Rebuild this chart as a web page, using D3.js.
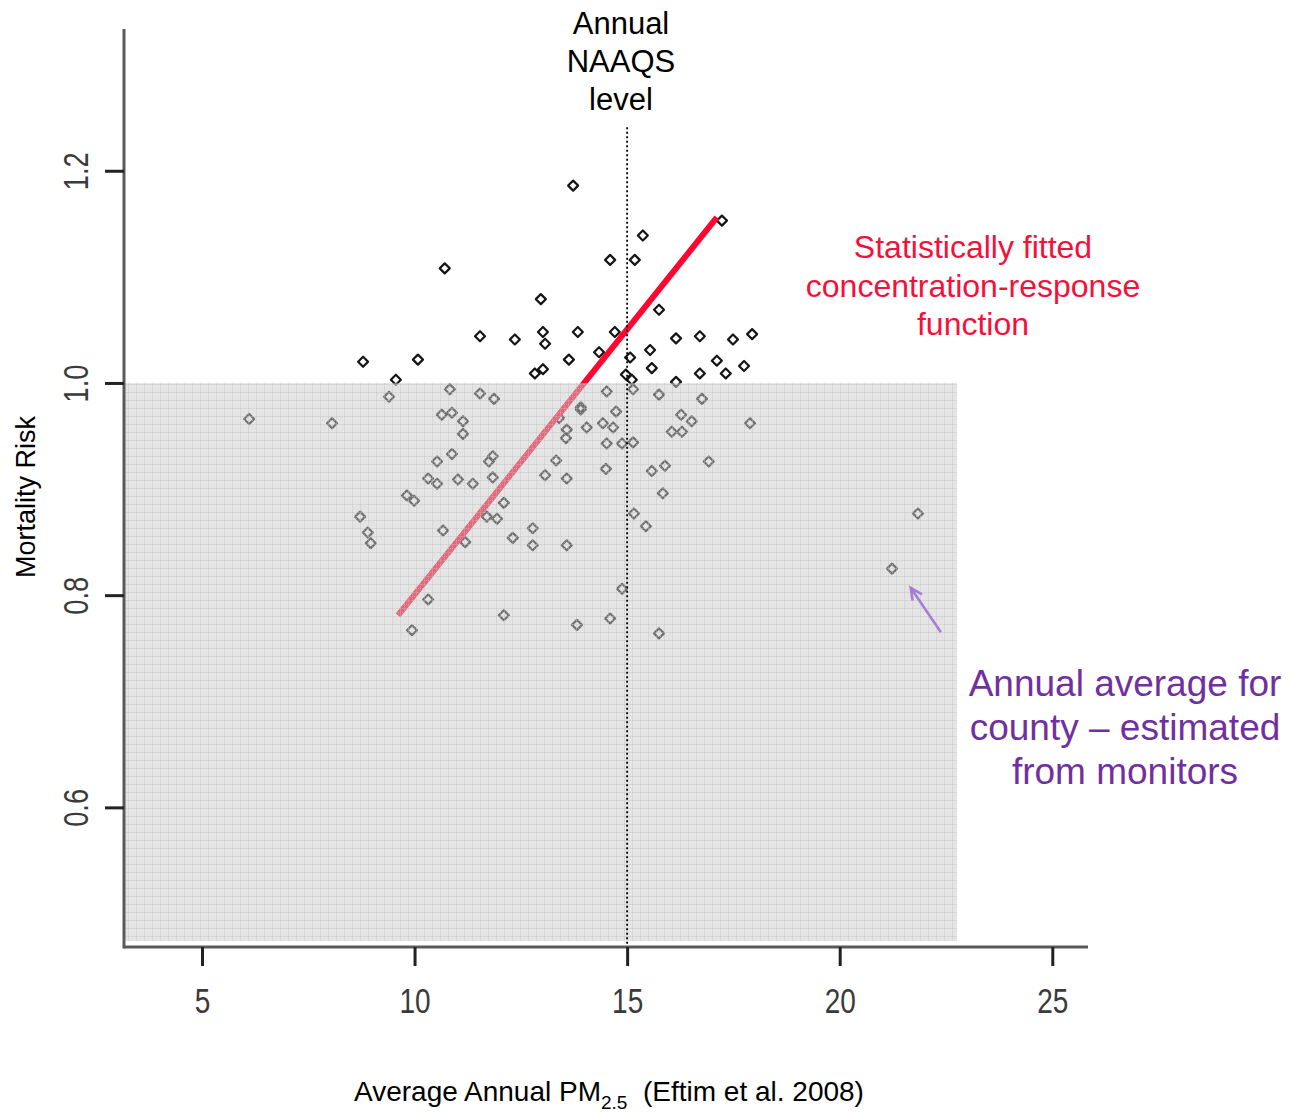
<!DOCTYPE html>
<html>
<head>
<meta charset="utf-8">
<script src="https://cdn.jsdelivr.net/npm/d3@7"></script>
<style>
  html, body { margin: 0; padding: 0; background: #fff; }
  svg { display: block; font-family: "Liberation Sans", Arial, sans-serif; }
</style>
</head>
<body>
<svg id="chart" width="1291" height="1113"></svg>
<script>
// county annual PM2.5 vs mortality risk (Eftim et al. 2008)
const pm = [
  13.73, 17.23, 15.37, 10.71, 14.60, 15.18, 12.97, 15.75, 11.54, 12.36,
  13.02, 13.07, 13.84, 14.71, 16.15, 16.71, 17.49, 17.94, 8.79, 10.08,
  13.63, 14.34, 15.07, 15.54, 15.58, 17.11, 17.75, 12.83, 13.02, 14.97,
  15.11, 16.15, 16.71, 17.32, 9.56, 9.40, 6.11, 8.06,
  10.83, 11.54, 11.87, 10.64, 10.88, 11.14, 11.14, 13.91, 13.91, 14.52,
  14.74, 14.43, 14.67, 14.05, 13.58, 13.56, 14.52, 14.88, 15.14, 15.14,
  15.75, 16.76, 16.27, 16.52, 16.05, 16.29, 17.89, 13.40, 10.53, 10.88,
  11.75, 11.84, 10.32, 10.53, 11.02, 11.37, 11.84, 9.82, 9.99, 8.72,
  8.90, 8.97, 10.67, 11.19, 11.70, 11.94, 10.32, 9.94, 12.10, 13.33,
  13.07, 13.58, 14.50, 15.58, 15.89, 16.92, 15.84, 12.10, 12.78, 12.31,
  12.78, 13.58, 15.16, 15.44, 14.88, 13.82, 14.60, 15.75, 21.84, 21.23
];
const risk = [
  1.186, 1.153, 1.139, 1.108, 1.116, 1.116, 1.079, 1.069, 1.044, 1.041,
  1.048, 1.037, 1.048, 1.048, 1.042, 1.044, 1.041, 1.046, 1.020, 1.022,
  1.022, 1.029, 1.024, 1.031, 1.014, 1.021, 1.016, 1.009, 1.013, 1.008,
  1.003, 1.001, 1.009, 1.009, 1.003, 0.987, 0.966, 0.962,
  0.994, 0.990, 0.985, 0.970, 0.972, 0.964, 0.952, 0.977, 0.975, 0.992,
  0.973, 0.962, 0.958, 0.958, 0.956, 0.948, 0.943, 0.943, 0.944, 0.994,
  0.989, 0.985, 0.970, 0.964, 0.954, 0.954, 0.962, 0.967, 0.926, 0.933,
  0.926, 0.931, 0.910, 0.905, 0.909, 0.905, 0.911, 0.894, 0.889, 0.874,
  0.859, 0.849, 0.861, 0.850, 0.874, 0.872, 0.796, 0.767, 0.781, 0.927,
  0.913, 0.910, 0.919, 0.917, 0.922, 0.926, 0.896, 0.887, 0.863, 0.854,
  0.847, 0.847, 0.877, 0.865, 0.806, 0.772, 0.778, 0.764, 0.877, 0.825
];

// fitted concentration-response line (end points)
const fitPM = [9.61, 17.11];
const fitRisk = [0.781, 1.156];

const xTicks = [5, 10, 15, 20, 25];
const yTicks = [0.6, 0.8, 1.0, 1.2];
const naaqs = 15;
const naaqsTop = 1.241;
const shadeMaxPM = 22.76, shadeMinRisk = 0.474, shadeMaxRisk = 1.0;
// arrow pointing at the outlying county (tail -> head)
const arrowPM = [22.38, 21.67];
const arrowRisk = [0.765, 0.807];

const svg = d3.select("#chart");
const x = d3.scaleLinear().domain([3.166, 25.84]).range([124, 1088]);
const y = d3.scaleLinear().domain([0.4684, 1.3336]).range([947, 29]);

const defs = svg.append("defs");
const pat = defs.append("pattern").attr("id", "grid")
  .attr("patternUnits", "userSpaceOnUse").attr("width", 8).attr("height", 8);
pat.append("rect").attr("width", 8).attr("height", 8).attr("fill", "rgb(204,204,204)").attr("fill-opacity", 0.5);
pat.append("path").attr("d", "M0,0.5H8M0.5,0V8")
  .attr("stroke", "rgb(185,185,185)").attr("stroke-opacity", 0.35).attr("stroke-width", 1);
pat.append("path").attr("d", "M0,4.5H8M4.5,0V8")
  .attr("stroke", "rgb(215,215,215)").attr("stroke-opacity", 0.35).attr("stroke-width", 1)
  .attr("stroke-dasharray", "1,1");

const pts = pm.map((v, i) => ({ pm: v, risk: risk[i] }));

// points
const sym = d3.symbol().type(d3.symbolSquare).size(50);
svg.append("g").selectAll("path").data(pts).join("path")
  .attr("transform", d => `translate(${x(d.pm)},${y(d.risk)}) rotate(45)`)
  .attr("d", sym)
  .attr("fill", "none").attr("stroke", "#151515").attr("stroke-width", 2.2)
  .attr("stroke-linejoin", "round");

// fitted line
svg.append("line")
  .attr("x1", x(fitPM[0])).attr("y1", y(fitRisk[0]))
  .attr("x2", x(fitPM[1])).attr("y2", y(fitRisk[1]))
  .attr("stroke", "#ff0530").attr("stroke-width", 6);

// shaded region (below risk 1.0)
svg.append("rect")
  .attr("x", x.range()[0]).attr("y", y(shadeMaxRisk))
  .attr("width", x(shadeMaxPM) - x.range()[0])
  .attr("height", y(shadeMinRisk) - y(shadeMaxRisk))
  .attr("fill", "url(#grid)");

// arrow
const ax0 = x(arrowPM[0]), ay0 = y(arrowRisk[0]), ax1 = x(arrowPM[1]), ay1 = y(arrowRisk[1]);
const ang = Math.atan2(ay1 - ay0, ax1 - ax0);
const hl = 13, ha = 0.45;
svg.append("path")
  .attr("d", `M${ax0},${ay0}L${ax1},${ay1}` +
    `M${ax1 - hl * Math.cos(ang - ha)},${ay1 - hl * Math.sin(ang - ha)}L${ax1},${ay1}` +
    `L${ax1 - hl * Math.cos(ang + ha)},${ay1 - hl * Math.sin(ang + ha)}`)
  .attr("fill", "none").attr("stroke", "#a57fd6").attr("stroke-width", 2.6);

// NAAQS dotted line
svg.append("line")
  .attr("x1", x(naaqs)).attr("x2", x(naaqs))
  .attr("y1", y(naaqsTop)).attr("y2", y.range()[0])
  .attr("stroke", "#000").attr("stroke-width", 1.8).attr("stroke-dasharray", "2,2.5");

// axes
const tickFont = "'Liberation Sans Narrow', 'Liberation Sans', Arial, sans-serif";
const xAxis = svg.append("g").attr("transform", `translate(0,${y.range()[0]})`)
  .call(d3.axisBottom(x).tickValues(xTicks).tickSize(19).tickPadding(22).tickFormat(d3.format("d")));
xAxis.select(".domain").attr("d", `M${x.range()[0]},0H${x.range()[1]}`)
  .attr("stroke", "#5a5a5a").attr("stroke-width", 3);
xAxis.selectAll(".tick line").attr("stroke", "#222").attr("stroke-width", 3);
xAxis.selectAll(".tick text")
  .attr("transform", "scale(0.8,1)")
  .attr("fill", "#3a3a3a")
  .style("font-family", tickFont)
  .style("font-size", "35px");

const yAxis = svg.append("g").attr("transform", `translate(${x.range()[0]},0)`)
  .call(d3.axisLeft(y).tickValues(yTicks).tickSize(19).tickFormat(d3.format(".1f")));
yAxis.select(".domain").attr("d", `M0,${y.range()[1]}V${y.range()[0] + 1.5}`)
  .attr("stroke", "#5a5a5a").attr("stroke-width", 3);
yAxis.selectAll(".tick line").attr("stroke", "#222").attr("stroke-width", 3);
yAxis.selectAll(".tick text")
  .attr("x", null).attr("dy", null)
  .attr("transform", "translate(-36,0) rotate(-90) scale(0.78,1)")
  .attr("text-anchor", "middle")
  .attr("fill", "#3a3a3a")
  .style("font-family", tickFont)
  .style("font-size", "35px");

// axis titles
svg.append("text")
  .attr("transform", "translate(35,497) rotate(-90)")
  .attr("text-anchor", "middle").attr("fill", "#000")
  .style("font-size", "27px")
  .text("Mortality Risk");

const xt = svg.append("text")
  .attr("x", 354).attr("y", 1101).attr("fill", "#000")
  .style("font-size", "28px");
xt.append("tspan").text("Average Annual PM");
xt.append("tspan").attr("dy", 8).style("font-size", "19px").text("2.5");
xt.append("tspan").attr("dy", -8).text("\u00a0\u00a0(Eftim et al. 2008)");

// annotations
const addLines = (lines, cx, y0, gap, size, color) => {
  svg.append("g").selectAll("text").data(lines).join("text")
    .attr("x", cx).attr("y", (_, i) => y0 + i * gap)
    .attr("text-anchor", "middle").attr("fill", color)
    .style("font-size", size + "px")
    .text(d => d);
};
addLines(["Annual", "NAAQS", "level"], 621, 34, 38, 31, "#000");
addLines(["Statistically fitted", "concentration-response", "function"], 973, 258, 38.5, 32, "#f5103c");
addLines(["Annual average for", "county \u2013 estimated", "from monitors"], 1125, 696, 44, 37, "#7030a0");
</script>
</body>
</html>
